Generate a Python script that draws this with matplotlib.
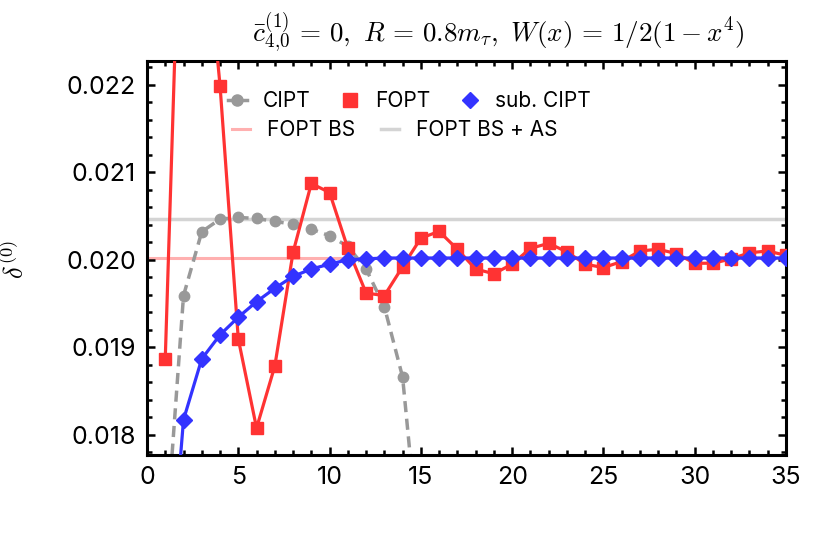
import matplotlib
matplotlib.use("Agg")
import matplotlib.pyplot as plt
from matplotlib.ticker import MultipleLocator
from matplotlib.lines import Line2D

plt.rcParams["font.family"] = ["Inter", "DejaVu Sans"]
plt.rcParams["mathtext.fontset"] = "cm"

# orders of the expansion
n_cipt = list(range(1, 16))
cipt = [0.0167, 0.01959, 0.02032, 0.020464, 0.020483, 0.020472, 0.020437,
        0.020407, 0.02035, 0.020274, 0.020153, 0.019894, 0.019464, 0.01866,
        0.0165]

n_fopt = list(range(1, 36))
fopt = [0.018868, 0.0255, 0.0242, 0.02199, 0.019096, 0.018078, 0.018785,
        0.020084, 0.020871, 0.020768, 0.02013, 0.01962, 0.01959, 0.01992,
        0.020247, 0.020324, 0.02012, 0.019894, 0.01984, 0.01995, 0.02013,
        0.020187, 0.02009, 0.01995, 0.01991, 0.01998, 0.0201, 0.02012,
        0.02007, 0.01996, 0.01996, 0.02001, 0.02008, 0.0201, 0.02005]

n_sub = list(range(1, 36))
sub_cipt = [0.0156, 0.018173, 0.018868, 0.019142, 0.019344, 0.019521,
            0.019674, 0.01981, 0.019894, 0.01995, 0.02000, 0.02001, 0.02002,
            0.02002, 0.02002, 0.02002, 0.02002, 0.02002, 0.02002, 0.02002,
            0.02002, 0.02002, 0.02002, 0.02002, 0.02002, 0.02002, 0.02002,
            0.02002, 0.02002, 0.02002, 0.02002, 0.02002, 0.02002, 0.02002,
            0.02002]

fopt_bs = 0.020016
fopt_bs_as = 0.020466

red = "#ff3333"
blue = "#3333ff"
gray = "#999999"

fig = plt.figure(figsize=(8.3, 5.42), dpi=100)
ax = fig.add_axes([147 / 830, 1 - 455 / 542, (786 - 147) / 830, (455 - 61) / 542])

ax.axhline(fopt_bs, color="#ffb0b0", lw=2.2, zorder=1)
ax.axhline(fopt_bs_as, color="#d4d4d4", lw=2.5, zorder=1)

ax.plot(n_cipt, cipt, color=gray, ls=(0, (3.2, 1.9)), lw=2.5,
        marker="o", ms=7.5, zorder=2)
ax.plot(n_fopt, fopt, color=red, lw=2.3, marker="s", ms=8.5, zorder=3)
ax.plot(n_sub, sub_cipt, color=blue, lw=2.3, marker="D", ms=8.5, zorder=4)

ax.set_xlim(0, 35)
ax.set_ylim(0.01777, 0.02227)
ax.xaxis.set_major_locator(MultipleLocator(5))
ax.xaxis.set_minor_locator(MultipleLocator(1))
ax.yaxis.set_major_locator(MultipleLocator(0.001))
ax.yaxis.set_minor_locator(MultipleLocator(0.0002))
ax.yaxis.set_major_formatter(plt.FormatStrFormatter("%.3f"))
ax.tick_params(which="both", direction="in", top=True, right=True,
               labelsize=18, width=1.8)
ax.tick_params(which="major", length=6, pad=8)
ax.tick_params(which="minor", length=3.5)
for s in ax.spines.values():
    s.set_linewidth(2.2)

fig.text(16 / 830, 1 - 260 / 542, r"$\delta^{(0)}$", rotation=90,
         fontsize=19, va="center", ha="center")
fig.text(498 / 830, 1 - 33 / 542,
         r"$\bar{c}^{(1)}_{4{,}0}\,=\,0,\ R\,=\,0.8m_\tau,\ W(x)\,=\,1/2(1-x^4)$",
         fontsize=19.5, ha="center", va="center")

h1 = [Line2D([], [], color=gray, ls="-", lw=2.5, marker="o", ms=8),
      Line2D([], [], color=red, ls="none", marker="s", ms=10),
      Line2D([], [], color=blue, ls="none", marker="D", ms=8)]
leg1 = ax.legend(h1, ["CIPT", "FOPT", "sub. CIPT"], ncol=3, frameon=False,
                 fontsize=15, handlelength=0.9, handletextpad=0.75,
                 columnspacing=1.45, loc="center left",
                 bbox_to_anchor=((228 - 147) / 639, (455 - 101) / 394),
                 borderaxespad=0, borderpad=0)
ax.add_artist(leg1)
h2 = [Line2D([], [], color="#ffb0b0", lw=2.2),
      Line2D([], [], color="#d4d4d4", lw=2.5)]
ax.legend(h2, ["FOPT BS", "FOPT BS + AS"], ncol=2, frameon=False,
          fontsize=15, handlelength=0.87, handletextpad=0.8,
          columnspacing=1.25, loc="center left",
          bbox_to_anchor=((232 - 147) / 639, (455 - 130) / 394),
          borderaxespad=0, borderpad=0)

fig.savefig("out.png", dpi=100)
